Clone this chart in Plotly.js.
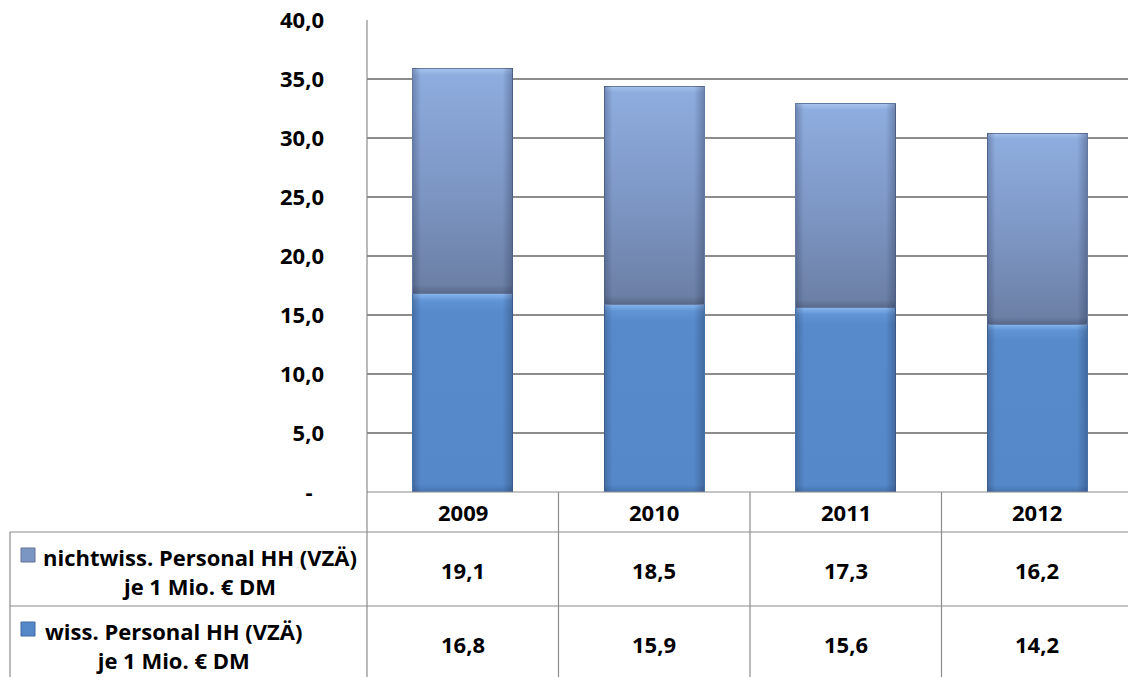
<!DOCTYPE html>
<html>
<head>
<meta charset="utf-8">
<script src="https://cdn.plot.ly/plotly-3.0.1.min.js"></script>
<style>
  html, body { margin: 0; padding: 0; background: #ffffff; }
  #chart { width: 1128px; height: 677px; }
</style>
</head>
<body>
<div id="chart"></div>
<script>
// Personal je 1 Mio. € Drittmittel, gestapelt nach Personalgruppe
const years = ['2009', '2010', '2011', '2012'];
const wissValues = [16.8, 15.9, 15.6, 14.2];
const nichtwissValues = [19.1, 18.5, 17.3, 16.2];
const yTickValues = [0, 5, 10, 15, 20, 25, 30, 35, 40];
const yTickLabels = ['-\u00a0\u00a0', '5,0', '10,0', '15,0', '20,0', '25,0', '30,0', '35,0', '40,0'];
const rowLabelLines = [
  ['nichtwiss. Personal HH (VZÄ)', 'je 1 Mio. € DM'],
  ['wiss. Personal HH (VZÄ)', 'je 1 Mio. € DM']
];
const rowValues = [nichtwissValues, wissValues];

const FONT = 'Open Sans, Lato, sans-serif';
const FSIZE = 22;
const LINE = '#8c8c8c';
const W = 1128, H = 677;
const PL = 367, PR = 1128, PT = 20, PB = 492;
const COL = 191.5; // width of one category column in px

// pixel -> paper coordinates
const px = x => (x - PL) / (PR - PL);
const py = y => (PB - y) / (PB - PT);
const fmt = v => v.toFixed(1).replace('.', ',');

const traces = [
  {
    type: 'bar', name: 'wiss. Personal HH (VZÄ) je 1 Mio. € DM',
    x: years, y: wissValues, width: 0.52,
    marker: { color: 'rgb(84,136,201)', line: { color: 'rgb(70,112,168)', width: 1 } },
    hoverinfo: 'none'
  },
  {
    type: 'bar', name: 'nichtwiss. Personal HH (VZÄ) je 1 Mio. € DM',
    x: years, y: nichtwissValues, width: 0.52,
    marker: { color: 'rgb(124,150,196)', line: { color: 'rgb(100,120,160)', width: 1 } },
    hoverinfo: 'none'
  }
];

const shapes = [];
const hline = (y, x0, x1) => shapes.push({ type: 'line', xref: 'paper', yref: 'paper',
  x0: px(x0), x1: px(x1), y0: py(y), y1: py(y), line: { color: LINE, width: 1.2 } });
const vline = (x, y0, y1) => shapes.push({ type: 'line', xref: 'paper', yref: 'paper',
  x0: px(x), x1: px(x), y0: py(y0), y1: py(y1), line: { color: LINE, width: 1.2 } });

// data table grid below the plot
hline(492, 367, 1128);
hline(532, 10, 1128);
hline(606, 10, 1128);
vline(10, 532, 680);
vline(367, 20, 680);
[1, 2, 3].forEach(i => vline(PL + i * COL, 492, 680));

// legend keys in the row headers
const keyColors = [['rgb(124,150,196)', 'rgb(96,114,150)'], ['rgb(84,136,201)', 'rgb(62,104,160)']];
const keyTops = [548, 622];
keyTops.forEach((t, i) => shapes.push({ type: 'rect', xref: 'paper', yref: 'paper',
  x0: px(21), x1: px(35), y0: py(t), y1: py(t + 14),
  fillcolor: keyColors[i][0], line: { color: keyColors[i][1], width: 1 } }));

const annotations = [];
const txt = (text, x, y) => annotations.push({ text, xref: 'paper', yref: 'paper',
  x: px(x), y: py(y), xanchor: 'center', yanchor: 'middle', showarrow: false, align: 'center',
  font: { family: FONT, size: FSIZE, color: '#000000', weight: 'bold' } });

years.forEach((yr, i) => {
  const cx = PL + (i + 0.5) * COL;
  txt(yr, cx, 512);
  rowValues.forEach((vals, r) => txt(fmt(vals[i]), cx, r === 0 ? 570 : 644));
});
// row headers: two centred lines next to the legend key
const labelPos = [[200, 571], [173, 645]];
rowLabelLines.forEach((lines, r) => txt(lines.join('<br>'), labelPos[r][0], labelPos[r][1]));

const layout = {
  width: W, height: H,
  margin: { l: PL, r: W - PR, t: PT, b: H - PB, pad: 0 },
  paper_bgcolor: '#ffffff', plot_bgcolor: '#ffffff',
  barmode: 'stack', showlegend: false,
  xaxis: {
    type: 'category', range: [-0.5, 3.474], showticklabels: false,
    showgrid: false, zeroline: false, showline: false, ticks: ''
  },
  yaxis: {
    range: [0, 40], tickvals: yTickValues, ticktext: yTickLabels,
    showgrid: true, gridcolor: LINE, gridwidth: 1.2, zeroline: false, showline: false,
    ticks: '', ticklabelstandoff: 42,
    tickfont: { family: FONT, size: FSIZE, color: '#000000', weight: 'bold' }
  },
  shapes, annotations
};

Plotly.newPlot('chart', traces, layout, { staticPlot: true, displayModeBar: false }).then(gd => {
  // bevel-like shading for the bar segments
  const svg = gd.querySelector('.main-svg');
  const ns = 'http://www.w3.org/2000/svg';
  const defs = svg.querySelector('defs');
  const addGrad = (id, stops, horiz) => {
    const g = document.createElementNS(ns, 'linearGradient');
    g.setAttribute('id', id);
    g.setAttribute('x1', '0'); g.setAttribute('y1', '0');
    g.setAttribute('x2', horiz ? '1' : '0'); g.setAttribute('y2', horiz ? '0' : '1');
    stops.forEach(([o, c, a]) => {
      const s = document.createElementNS(ns, 'stop');
      s.setAttribute('offset', o); s.setAttribute('stop-color', c);
      s.setAttribute('stop-opacity', a === undefined ? 1 : a);
      g.appendChild(s);
    });
    defs.appendChild(g);
  };
  addGrad('gTop', [['0', 'rgb(168,196,238)'], ['0.03', 'rgb(142,172,222)'], ['0.5', 'rgb(126,152,198)'],
                   ['0.96', 'rgb(108,128,166)'], ['1', 'rgb(88,104,136)']]);
  addGrad('gBot', [['0', 'rgb(134,182,238)'], ['0.035', 'rgb(96,148,212)'], ['0.09', 'rgb(86,138,203)'],
                   ['0.96', 'rgb(84,136,201)'], ['1', 'rgb(70,116,176)']]);
  addGrad('gSide', [['0', 'rgb(30,40,70)', 0.28], ['0.08', 'rgb(30,40,70)', 0.0],
                    ['0.9', 'rgb(30,40,70)', 0.0], ['1', 'rgb(30,40,70)', 0.32]], true);
  gd.querySelectorAll('.barlayer .trace').forEach((tg, ti) => {
    tg.querySelectorAll('path').forEach(p => {
      p.style.fill = ti === 0 ? 'url(#gBot)' : 'url(#gTop)';
      const side = p.cloneNode(false);
      side.style.fill = 'url(#gSide)';
      side.style.stroke = 'none';
      p.parentNode.appendChild(side);
    });
  });
});
</script>
</body>
</html>
